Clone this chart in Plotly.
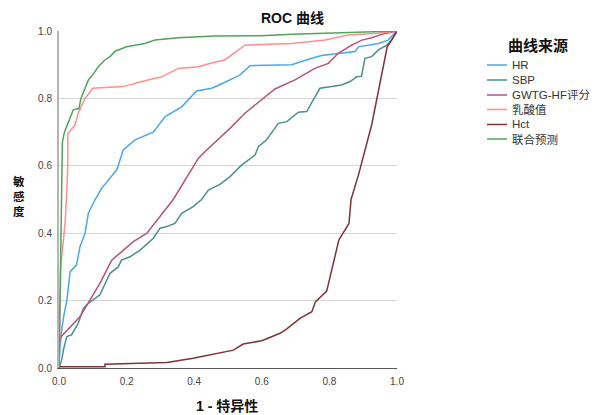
import plotly.graph_objects as go

# ---- data ----
series_names = ["HR", "SBP", "GWTG-HF评分", "乳酸值", "Hct", "联合预测"]

hr_x = [0, 0.003, 0.008, 0.013, 0.023, 0.033, 0.052, 0.062, 0.077, 0.087, 0.107, 0.126, 0.171, 0.19,
        0.225, 0.279, 0.314, 0.363, 0.407, 0.452, 0.491, 0.536, 0.565, 0.688, 0.748, 0.777, 0.876,
        0.886, 0.945, 0.974, 0.985, 1]
hr_y = [0, 0.06, 0.113, 0.148, 0.20, 0.286, 0.306, 0.36, 0.40, 0.46, 0.50, 0.533, 0.588, 0.647,
        0.677, 0.70, 0.746, 0.775, 0.822, 0.83, 0.848, 0.87, 0.897, 0.90, 0.919, 0.927, 0.939,
        0.953, 0.963, 0.973, 0.985, 1]

sbp_x = [0, 0.003, 0.008, 0.013, 0.023, 0.037, 0.057, 0.072, 0.087, 0.121, 0.151, 0.175, 0.185, 0.21,
         0.24, 0.279, 0.299, 0.319, 0.343, 0.363, 0.397, 0.422, 0.442, 0.476, 0.506, 0.54, 0.58, 0.59,
         0.614, 0.649, 0.674, 0.708, 0.733, 0.748, 0.772, 0.807, 0.836, 0.861, 0.881, 0.895, 0.905,
         0.925, 0.945, 0.97, 0.984, 1]
sbp_y = [0, 0.01, 0.024, 0.053, 0.093, 0.098, 0.133, 0.177, 0.192, 0.217, 0.281, 0.30, 0.32, 0.33,
         0.35, 0.385, 0.415, 0.42, 0.429, 0.459, 0.479, 0.50, 0.528, 0.545, 0.568, 0.602, 0.632, 0.657,
         0.677, 0.726, 0.731, 0.759, 0.761, 0.788, 0.83, 0.835, 0.84, 0.85, 0.864, 0.866, 0.919,
         0.924, 0.944, 0.958, 0.973, 1]

gwtg_x = [0, 0, 0.006, 0.062, 0.121, 0.156, 0.22, 0.26, 0.338, 0.412, 0.437, 0.506, 0.55, 0.639,
          0.698, 0.757, 0.797, 0.826, 0.866, 0.896, 0.925, 0.955, 1]
gwtg_y = [0, 0.074, 0.093, 0.152, 0.251, 0.32, 0.375, 0.40, 0.50, 0.622, 0.647, 0.711, 0.756, 0.828,
          0.855, 0.889, 0.904, 0.934, 0.958, 0.973, 0.98, 0.99, 1]

lac_x = [0, 0.005, 0.01, 0.015, 0.018, 0.022, 0.026, 0.026, 0.047, 0.057, 0.067, 0.077, 0.10, 0.19,
         0.245, 0.304, 0.353, 0.412, 0.46, 0.49, 0.55, 0.688, 0.787, 0.855, 0.944, 1]
lac_y = [0, 0.3, 0.35, 0.40, 0.43, 0.5, 0.6, 0.696, 0.72, 0.757, 0.78, 0.80, 0.83, 0.835,
         0.85, 0.864, 0.889, 0.894, 0.907, 0.914, 0.958, 0.963, 0.973, 0.988, 0.993, 1]

hct_x = [0, 0.136, 0.136, 0.319, 0.397, 0.447, 0.491, 0.516, 0.545, 0.60, 0.654, 0.674, 0.713, 0.748,
         0.759, 0.792, 0.828, 0.858, 0.864, 0.886, 0.925, 0.955, 0.967, 0.971, 0.984, 1]
hct_y = [0.004, 0.004, 0.011, 0.016, 0.029, 0.039, 0.05, 0.053, 0.071, 0.081, 0.103, 0.116, 0.147,
         0.167, 0.197, 0.228, 0.38, 0.429, 0.5, 0.573, 0.721, 0.869, 0.939, 0.953, 0.973, 1]

comb_x = [0, 0.003, 0.005, 0.01, 0.016, 0.03, 0.042, 0.059, 0.065, 0.077, 0.087, 0.10, 0.116, 0.136,
          0.151, 0.166, 0.185, 0.2, 0.225, 0.254, 0.284, 0.353, 0.46, 0.595, 0.69, 0.855, 1]
comb_y = [0, 0.2, 0.35, 0.67, 0.70, 0.735, 0.766, 0.77, 0.80, 0.83, 0.855, 0.87, 0.894, 0.914,
          0.924, 0.94, 0.946, 0.953, 0.958, 0.963, 0.973, 0.98, 0.985, 0.986, 0.99, 0.996, 1]

tick_vals = [0.0, 0.2, 0.4, 0.6, 0.8, 1.0]
tick_text = ["0.0", "0.2", "0.4", "0.6", "0.8", "1.0"]

colors = ["#4aa8ea", "#4a8f8c", "#b4527f", "#ff8f8f", "#7d3434", "#4fa45c"]

xs = [hr_x, sbp_x, gwtg_x, lac_x, hct_x, comb_x]
ys = [hr_y, sbp_y, gwtg_y, lac_y, hct_y, comb_y]

FONT = "Liberation Sans, Arial, Noto Sans CJK SC, sans-serif"

# page geometry (the page body has an 8px default margin)
OFF = 8
W, H = 599 - OFF, 415 - OFF
L, R, T, B = 59 - OFF, 397 - OFF, 31 - OFF, 368 - OFF
PW, PH = R - L, B - T


def px_x(p):
    return (p - OFF - L) / PW


def px_y(p):
    return (B - (p - OFF)) / PH


def note(text, x, y, size, color="#111111", xanchor="center"):
    return dict(text=text, x=px_x(x), y=px_y(y), xref="paper", yref="paper",
                xanchor=xanchor, yanchor="middle", showarrow=False,
                font=dict(family=FONT, size=size, color=color))


fig = go.Figure()
for name, x, y, c in zip(series_names, xs, ys, colors):
    fig.add_trace(go.Scatter(x=x, y=y, mode="lines", name=name, showlegend=False,
                             line=dict(color=c, width=1.5)))

annotations = [
    note("<b>敏<br>感<br>度</b>", 19, 196, 11.5),
    note("<b>1 - 特异性</b>", 227, 406, 14),
    note("<b>ROC 曲线</b>", 292, 18, 14),
    note("<b>曲线来源</b>", 538, 45, 15),
]
shapes = []
row_y = [65, 80, 95, 109.5, 124.5, 139]
for name, c, ry in zip(series_names, colors, row_y):
    shapes.append(dict(type="line", xref="paper", yref="paper",
                       x0=px_x(487), x1=px_x(507), y0=px_y(ry), y1=px_y(ry),
                       line=dict(color=c, width=1.5)))
    annotations.append(note(name, 510, ry, 11.5, color="#333333", xanchor="left"))

fig.update_layout(
    width=W, height=H,
    paper_bgcolor="white", plot_bgcolor="white",
    margin=dict(l=L, r=W - R, t=T, b=H - B, autoexpand=False),
    font=dict(family=FONT, size=11, color="#333333"),
    showlegend=False,
    xaxis=dict(range=[0, 1], tickvals=tick_vals, ticktext=tick_text, showgrid=False,
               zeroline=False, showline=True, linecolor="#555555", linewidth=1,
               ticks="", ticklabelstandoff=4, automargin=False,
               tickfont=dict(family=FONT, size=10, color="#444444")),
    yaxis=dict(range=[0, 1], tickvals=tick_vals, ticktext=tick_text, showgrid=True,
               gridcolor="#d4d4d4", gridwidth=1.2, zeroline=False, showline=True,
               linecolor="#b5b5b5", linewidth=2, ticks="", ticklabelstandoff=3,
               automargin=False,
               tickfont=dict(family=FONT, size=10, color="#444444")),
    annotations=annotations,
    shapes=shapes,
)

fig.write_html("out.html")
